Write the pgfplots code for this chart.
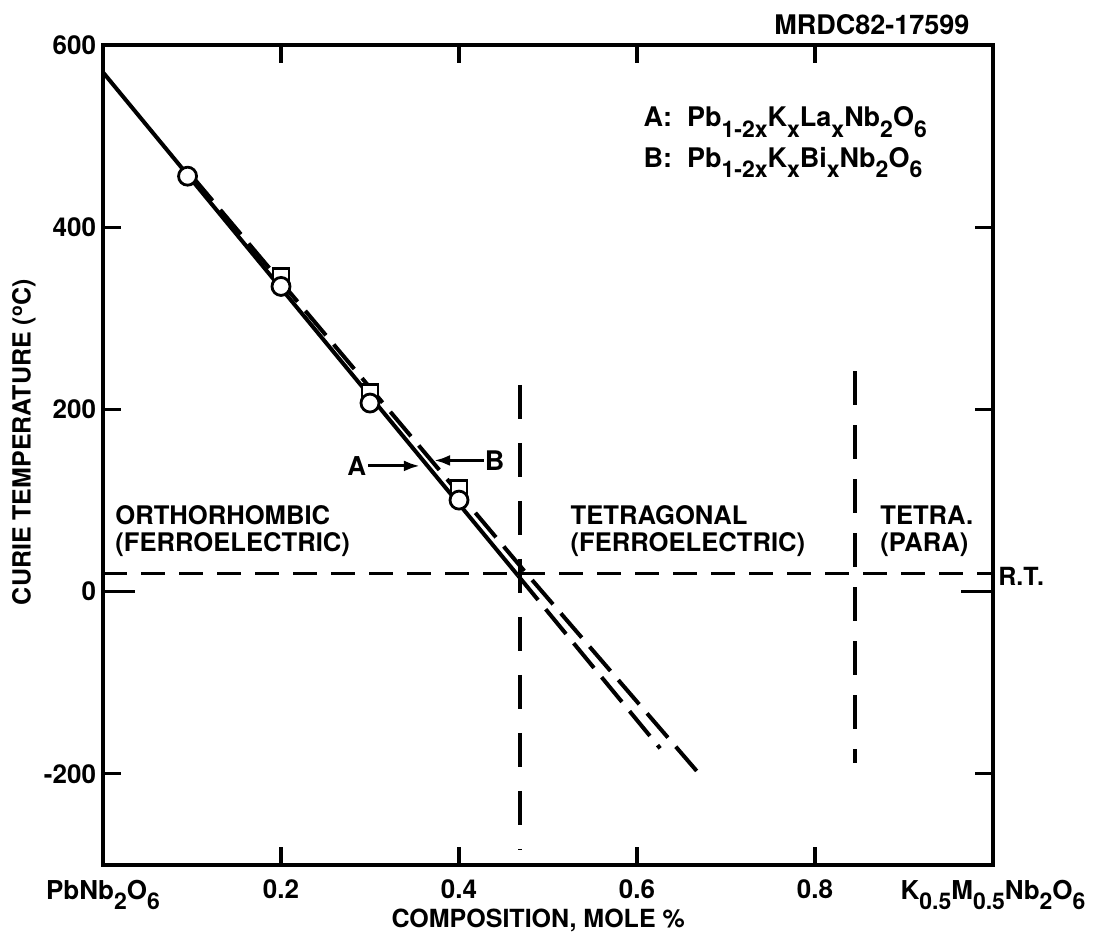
\documentclass[border=0pt]{standalone}
\usepackage{pgfplots}
\pgfplotsset{compat=1.18}
\usepackage{fontspec}
\setmainfont{TeX Gyre Heros}
\usetikzlibrary{arrows.meta}
\newcommand{\sub}[1]{\raisebox{-0.4em}{\fontsize{11.5bp}{12bp}\selectfont #1}}
\begin{document}
\begin{tikzpicture}[x=1bp,y=1bp]
\begin{axis}[
  scale only axis,
  width=445bp, height=410bp,
  xmin=0, xmax=1, ymin=-300, ymax=600,
  axis line style={line width=2bp},
  xtick={0,0.2,0.4,0.6,0.8,1},
  xticklabels={PbNb\sub{2}O\sub{6},0.2,0.4,0.6,0.8,K\sub{0.5}M\sub{0.5}Nb\sub{2}O\sub{6}},
  ytick={-200,200,400,600},
  yticklabels={-200,200,400,600},
  extra y ticks={0}, extra y tick labels={0},
  extra y tick style={major tick length=16bp},
  tick align=inside,
  major tick length=9bp,
  tick style={line width=1.6bp, black},
  ticklabel style={font=\fontsize{13bp}{14bp}\selectfont\bfseries},
  xticklabel style={yshift=-4bp},
  xlabel={COMPOSITION, MOLE \%},
  ylabel={CURIE TEMPERATURE (\textsuperscript{o}C)},
  label style={font=\fontsize{12.5bp}{14bp}\selectfont\bfseries},
  x label style={at={(axis description cs:0.489,-0.067)},anchor=center},
  y label style={at={(axis description cs:-0.0888,0.516)},anchor=center},
  clip=false,
]
% reference lines
\addplot[line width=1.6bp, dash pattern=on 12bp off 7bp] coordinates {(0,20) (1,20)};
\addplot[line width=2bp, dash pattern=on 17bp off 12bp] coordinates {(0.4685,227) (0.4685,-284)};
\addplot[line width=2bp, dash pattern=on 17bp off 10bp] coordinates {(0.845,242) (0.845,-188)};
% series B
\addplot[line width=2bp, dash pattern=on 16bp off 6bp] coordinates {(0.1,456) (0.474,22) (0.669,-199)};
\addplot[only marks, mark=square*, mark size=4bp, mark options={line width=1.4bp, fill=white, draw=black}] coordinates {(0.2,346) (0.3,219) (0.4,113)};
% series A
\addplot[line width=2bp] coordinates {(0,570) (0.466,18)};
\addplot[line width=2bp, dash pattern=on 16bp off 6bp] coordinates {(0.466,18) (0.626,-172)};
\addplot[only marks, mark=*, mark size=4.5bp, mark options={line width=1.4bp, fill=white, draw=black}] coordinates {(0.095,456) (0.2,335) (0.3,207) (0.4,100.5)};
% region labels
\node[anchor=west, inner sep=0pt, align=left, font=\fontsize{12.8bp}{13.75bp}\selectfont\bfseries] at (axis cs:0.0135,66.5) {ORTHORHOMBIC\\(FERROELECTRIC)};
\node[anchor=west, inner sep=0pt, align=left, font=\fontsize{12.8bp}{13.75bp}\selectfont\bfseries] at (axis cs:0.525,66.5) {TETRAGONAL\\(FERROELECTRIC)};
\node[anchor=west, inner sep=0pt, align=left, font=\fontsize{12.8bp}{13.75bp}\selectfont\bfseries] at (axis cs:0.873,66.5) {TETRA.\\(PARA)};
\node[anchor=west, inner sep=0pt, xshift=2.5bp, font=\fontsize{12.5bp}{13bp}\selectfont\bfseries] at (axis cs:1,17) {R.T.};
% formulas
\node[anchor=base west, inner sep=0pt, font=\fontsize{13.5bp}{14bp}\selectfont\bfseries] at (axis cs:0.607,510) {A:\ \ Pb\sub{1-2x}K\sub{x}La\sub{x}Nb\sub{2}O\sub{6}};
\node[anchor=base west, inner sep=0pt, font=\fontsize{13.5bp}{14bp}\selectfont\bfseries] at (axis cs:0.607,466) {B:\ \ Pb\sub{1-2x}K\sub{x}Bi\sub{x}Nb\sub{2}O\sub{6}};
\node[anchor=base east, inner sep=0pt, font=\fontsize{13.5bp}{14bp}\selectfont\bfseries] at (axis cs:0.974,611) {MRDC82-17599};
% arrows
\node[font=\fontsize{13bp}{14bp}\selectfont\bfseries] at (axis cs:0.285,138) {A};
\draw[-{Latex[length=8bp,width=5.5bp]}, line width=1.5bp] (axis cs:0.298,138) -- (axis cs:0.356,138);
\node[font=\fontsize{13.5bp}{14bp}\selectfont\bfseries] at (axis cs:0.44,144) {B};
\draw[-{Latex[length=8bp,width=5.5bp]}, line width=1.5bp] (axis cs:0.428,144) -- (axis cs:0.372,144);
\end{axis}
\pgfresetboundingbox
\path[use as bounding box] (-51.5,-37) rectangle (496,432.5);
\end{tikzpicture}
\end{document}
